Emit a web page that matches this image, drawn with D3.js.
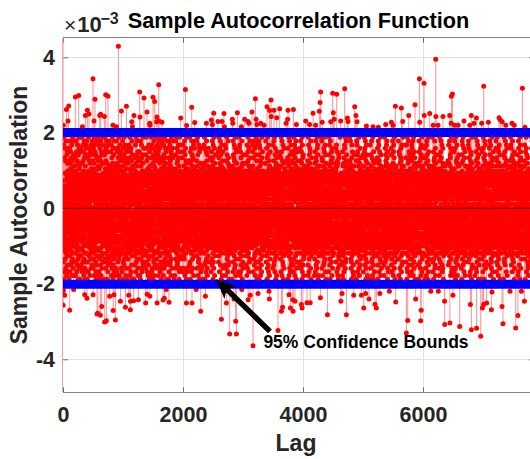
<!DOCTYPE html>
<html>
<head>
<meta charset="utf-8">
<script src="https://cdn.jsdelivr.net/npm/d3@7/dist/d3.min.js"></script>
<style>
html,body{margin:0;padding:0;background:#fff;}
svg{display:block;}
text{font-family:"Liberation Sans",Arial,Helvetica,sans-serif;font-weight:bold;}
</style>
</head>
<body>
<svg id="chart" width="530" height="459"></svg>
<script>
// ---------------- data (values in units of 1e-3) ----------------
const xTicks = [0, 2000, 4000, 6000];
const yTicks = [-4, -2, 0, 2, 4];
const xDomain = [0, 7850];
const yDomain = [-4.874, 4.519];
const confidenceBound = 2.01;
const lagZeroValue = 1000;

// stems that stick out beyond the confidence bounds
const upperTailLags = [
  5,57,83,95,206,262,323,373,406,433,
  500,517,533,612,628,690,712,750,833,890,
  923,973,1057,1145,1157,1183,1278,1283,1350,1400,
  1445,1450,1500,1528,1560,1567,1595,1600,1650,1962,
  2040,2060,2145,2195,2390,2473,2490,2512,2583,2650,
  2683,2690,2823,2830,2907,2973,3028,3083,3100,3150,
  3207,3217,3230,3295,3350,3400,3445,3467,3470,3517,
  3562,3612,3717,3745,3750,3840,3890,4045,4110,4167,
  4210,4272,4285,4295,4320,4462,4495,4505,4520,4562,
  4628,4695,4740,4750,4862,4883,4900,5057,5167,5255,
  5378,5473,5500,5540,5640,5662,5762,5867,5940,5945,
  6017,6020,6112,6170,6212,6215,6250,6333,6445,6470,
  6473,6490,6530,6585,6683,6780,6805,6850,6890,6978,
  7012,7090,7267,7290,7320,7380,7483,7520,7657,7700];
const upperTailValues = [
  2.2,2.62,2.31,2.71,2.95,2.99,2.16,2.46,2.6,2.5,
  3.43,2.31,2.89,2.46,2.49,2.43,3.01,2.97,2.2,2.16,
  4.29,2.58,2.7,2.29,2.16,2.46,3.08,2.42,2.92,2.55,
  2.25,2.2,2.94,2.83,2.29,2.42,3.27,2.31,2.28,2.39,
  3.15,2.19,2.68,2.27,2.25,2.34,2.22,2.52,2.3,2.3,
  2.51,2.16,2.36,2.25,2.53,2.16,2.36,2.3,2.25,2.55,
  2.9,2.36,2.22,2.25,2.2,2.69,2.59,2.87,2.43,2.6,
  2.4,2.64,2.25,2.36,2.6,2.62,2.22,2.31,2.22,2.52,
  2.2,2.57,2.8,3.08,2.28,2.29,3.05,2.53,2.36,3.02,
  2.31,3.17,2.39,2.3,2.69,2.46,2.29,2.18,2.16,2.15,
  2.22,2.28,2.2,2.7,2.66,2.3,2.46,2.74,3.43,2.28,
  3.31,2.46,2.51,2.2,3.95,2.43,2.2,2.43,2.46,2.25,
  2.97,3.03,2.2,2.2,2.31,2.2,2.46,2.25,2.39,2.25,
  3.23,2.28,2.4,2.34,2.29,2.2,2.25,2.2,3.18,2.15];
const lowerTailLags = [
  3,7,28,112,178,362,400,502,567,580,
  623,645,695,723,778,836,850,873,957,1040,
  1095,1123,1125,1178,1257,1378,1403,1447,1569,1667,
  1690,1720,1767,2057,2150,2220,2295,2373,2640,2723,
  2778,2850,2878,2890,2980,3085,3120,3167,3250,3433,
  3440,3583,3640,3660,3767,3790,3830,3835,3867,3973,
  3985,4067,4120,4290,4407,4632,4650,4723,4845,4973,
  5012,5045,5100,5200,5222,5280,5440,5545,5723,5745,
  5878,5962,5970,6130,6255,6360,6362,6448,6500,6612,
  6790,6807,6893,6962,6990,7010,7060,7140,7150,7317,
  7333,7450,7545,7583,7640,7690];
const lowerTailValues = [
  -2.57,-2.18,-2.3,-2.7,-2.15,-2.29,-2.38,-2.29,-2.8,-2.78,
  -2.83,-2.6,-3.01,-2.98,-2.33,-2.71,-2.29,-2.96,-2.46,-2.62,
  -2.3,-2.69,-2.46,-2.45,-2.42,-2.51,-2.28,-2.33,-2.51,-2.43,
  -2.38,-2.15,-2.49,-2.51,-2.51,-2.15,-2.73,-2.33,-2.94,-2.51,
  -3.33,-2.4,-2.99,-3.33,-2.15,-2.42,-2.3,-3.64,-2.26,-2.2,
  -2.4,-3.24,-2.73,-2.62,-2.29,-2.64,-2.42,-2.73,-2.46,-2.55,
  -2.64,-2.5,-2.5,-2.37,-2.82,-2.46,-2.26,-2.82,-2.3,-2.3,
  -2.64,-2.26,-2.4,-2.54,-2.64,-2.26,-2.2,-2.48,-3.3,-2.97,
  -2.4,-2.98,-2.7,-2.2,-2.2,-2.46,-3.08,-3.04,-2.3,-3.13,
  -2.55,-3.22,-3.18,-3.39,-2.64,-2.55,-2.51,-2.69,-2.22,-2.6,
  -3.06,-2.2,-3.17,-2.84,-2.2,-2.46];

// codebook for the dense in-bound stems: one letter per lag, letter -> level
const codeLetters = "abcdefghijklmnopqrstuvwxyzABCDEFGHIJKLMNOPQRSTUVWXYZ";
const codeLevels = [
  -0.875,-0.805,-0.735,-0.665,-0.595,-0.525,-0.455,-0.385,-0.315,-0.245,-0.175,-0.105,-0.035,
  0.035,0.105,0.175,0.245,0.315,0.385,0.455,0.525,0.595,0.665,0.735,0.805,0.875,
  -0.93,-0.99,-1.05,-1.12,-1.19,-1.26,-1.34,-1.42,-1.50,-1.59,-1.68,-1.78,-1.88,
  0.93,0.99,1.05,1.12,1.19,1.26,1.34,1.42,1.50,1.59,1.68,1.78,1.88];
const bulkCodes = [
"kqQtmHaxZehBsjXcvMruKgoDnfTwbAikWeaNplGvgSqdJmhCfaYujEpkPotLizUvqFygVxtIhbRknOfaKzjWmiDosRdeAgwSrk",
"bwMyrCeqWkdRmzFsoKtjYfuAxlPhnIvdVaqDkiNwgTmsHcyXbpBtzLehSoqGjvZfrEkaOxmJbsQuiUcwTlgHtyBenYzdLhaQrqoj",
"zdTmaAqjLrxOktEhgYveHylCsuVowNinKfqSbzBmkIrtXcbDhxRgjGyaMsvUdpFklZiqJowWemPtfQzbMguZnyFhsVcoCkrJwp",
"uaFsmWgxIrkRytCejNhlZbwKvfPnmDkqXsdHtegSypAazVuhLoxOjwGlkYcvTdfBgrMniJqtEzyQhsUejHkbXugNfpEqrWxmKo",
"ehYcwDzaMkmQsbHrjUnaBtvTyfKglOxuZoiAbqIkeSzhFwsWmtCagNjcLxpRlnEvuVfdGkqXanJrhPzsDcmUwgIbiOyjYeaGxd",
"ybBrjNsfSkdJaxWmqEwtRglGzvZhnLeuCiaXrsPkyVafAmpOjgHzcUwtDlvKoqMhdIbxTsiYryQakFnuLoPTbmCjeZgtPzQldSv",
"mtKkxXgqDzePolTbwGdrAjvWihMofQynScaIkuYtzCzlLxrVgsFbaOpoJjwUnvEhdRkrBaeZmqHfoNztXsiRxlHugVkwAdyMjq",
"rqUliLvcGzkZhbAxePmsJogEptSdyWjwNaBuYnfHcrRblCqdMztVaoFkeKemThgXxsIyiOvjDajQrcGwfYuBlqPnoNzIcm",
"cnHwfQsdBjzVraNmkFxAvXteLhgCyoTplJuiZdbEwqRozAmsMpkWjaIrdOhxUbcGteSyaKfgYnvDolPrwQmuCksWzibLjqKapFg",
"gzNkvJbaYcsEmoKwjRnqAehVytOaxHflDuiWcpTqdBzmQkgGwsZrtMpjLhbFyaXviPonUxlCqfIuDSkeVtmOgbJhaTswEojDcy",
"hsDaqSexKkoYjzMmfBdgWryHlvQnbAcuUskImzZthGjpOeaEfbXgkCyxTcvNdlFmiLrsRqbJtzVfnPwkhgAuxeyMalSjoWzmDvrBsq",
"xdRmuGyqAeljNzcXrtEwgJsfTvhCabZnmLkzPelVyrHxjOtpKodWwgDsbSahBfmIqvYuoMkzFilUbtQrajPxwegDkysMfohZcq",
"lpWfzMcrFtAhCqkIbwTsxOymAjgXdvKoaRlbDufZtrHizUqcQmkEwAyYheGsbNnjVgpLovJxlSfqPadBzeGkmThwo",
"wfVqoBatPvhLxkDrmSelMzjYodGsyQpgEcbJiaXtnAwuTdkOqmKhrCzfUseHyvRlxZajFckIpdNgwWmtuiHelNzbOhfqAsyxnDvrk",
"akJydUmrEblWgtAzsHcwZhoNexSfjCakYviKqrFcnPbzBmsTdtLlaIwyObpXhgGknDecMfuVjxRqoQevmzAisLlbOtkWdCyn",
"snOjwZhfCkoKarTbzFqcXytJmpBglRoxWeuMdvDknUwiHsrYqcAjmQhzLceGafSyoEltIpgPbnVkvNsdxWwdJaqTmuZrnS",
"voGnxIsgQmqXdeNkrDbjUwfAzyLptVlhSacCiuObmYkrJqdEgsWxvRnwFelKjqZhtBzyHfpTcoMnmPkrsEduIagXcvJwlO",
"qiYkvPzuHcdAhrSmoLasCxwXeoUftJgjQylNanEcbZqkTdzGmwRrvWnhBseIuoVtiKaDbgOjxMlEFckfnYyPwzHmdAoq",
"dtEhmWkwOqyMzrBsTleKcvRxgYnjFaoAfiXuwIkdHrqSemQtzDbsVylGhgZavLdoUcqCjxNkbJwpPefrWlmAziTnCvhsYduekqBxjaNgowfMrzlcDtyhb",
"jzLaeAlxUsnGcrPtgYqkDwmJvaZphNuyEnRidWzfIcbHqlSseCpmVkoBtrXgxTwaFbcQnyMjeKvdOuhNrsfZaiqJkmOlbwtGxegpDjyaXnvhsrVzfoNmkbFcuwl",
"oeTvcKnqNzbDwjXltCnxJukFsfVbmQdhGgyBcrYiaOzpLqeAdkUwsIvnWtlEjmShcRxgPbyMnrZeoufKsBdkzOaiwJlCpmhyPjqvkAexnrNbdgoSmzctDsyu",
"bcIwtZrmRjyHqlMhzVkdAsaOpfEueKgxWviSmnCrqYdbUhlBzpQtkGawJyjNcfTsgDomXuaLdvFixPrzkhBeltWwCnaqYOfjsmDgkbpNuzvrAxwohLiet",
"nxSmfFakYdbJjzQsuCnhZroUlyNcwLtevHgaOqcGbiXmxBjzDsVknMroWfhAelRawIytEvgTcqKkmPzoRbuDlApsJhCxifWonqeBzkvyMadrgNhbtQlcom",
"tkPzgXdhEqsRewZacWmIryMluBavOfoTjbHixAkcKnzNwsVdqGmhYgtDerSlaUyJbLkcCvuQnfFqjeOpzxWwdHimkrbAhtlgPsoynCvxdqBfkweTzamjNlrsucH",
"fgKqumOayVdcSltGkzIowBrsYbhQaxTjeEpcMviXnoHkmCzdJblPfgZyrAutWswLncDaqRhjFbxNmoUpvlkzAdtrgOycwiBnsfuqCkmjlNhaveDztxobPrwgcV",
"ryCdmHkxTbszZqhFaoNltKwfWevAjgRcnYuiIkoDzwPsyUdqEmhMrtQclBbpXfgGvjOqaLxoVekSzsJmuCwdhiPlnytAgrqkOfvzbEmcjsNxhaulBdtwI",
"euXqxLbgAojWdkJwhOcfSmyDtsZlaGviUecBnkNqzKgmFwhYrxRotIjsTulHyfCkpQvzMdcEemVwgPaDinhtEqsrxPbokjlAzmcNyfwvCdhtuBqk",
"lmMahEzwQcqBektYrdKjsHxoUgyPvfTapAlbFmkXunSqwJitNosDchWgaIeyZxkLrfOjdGlmVozCbtRshwcgNyupkiCdjzrOqmxaBltfvPwhesKnb",
"ivZxnGqtWgwNdfEzcXrkLslPmhCyeVobKjaBqcTumIzkSdxFrtYvgQwsAylMboDicRqhHaeOjmJnkUdzpAqtwxOvrsgCfmlbNijkyuDhazqBwcetRmoxF",
"zaAebUrsIdxOqyDvjLtkRwgXhfFluJcnCmiVosZqeSbrNkxEwtKjaWvgQyhBmdHckTbfGrpYloMsuPzwiNxgqtOdecjBkmyshPvfalrCzwnqAgtdX",
"dkVwyQjaCbmKzrTqoYhsGxcNelAgvIufOcknFbiWozEmsLtrRdqBwhUljHeyZfgXbxSakJpoDcvMzmPagAhtrvOeswbDkjY",
"pwHjmDefYdnUkqMzrJxbXtsEghQlcWuyAnvSawLmiPkdGozOeqRjtIbrKnsZfxTlhCagNevVwqFmkBcyBzndtuOaxrjDfmsqlCpzhiwNkobgAyetvRjdcasBn",
"cfRtsYznNqaHkwFlemWbxBryMjdTnhJgbEvoZciOqaUuzAmtIkdKxwXseDlaSnjPgrLofQhcCydGqmVzkwaeNtixEjolrsCbmhgAzdunyPfktxwNqvajBsl",
"wxJyzBkmXiEgoOjsSdIacYteHrhNpqZwlCnfKcvUbzGuoWkdAamMxtDjqQnsRegFwyLbrThlPcaVfkmvOpitQndxaEgboyzCkslrjNwumhaPqtfxBdgevAkoz",
"yhUlpEesGaNxTtzQjkKcwZmqDroVadAfuLgvYonBkySyhOidHcjXlzIpmMsxFtwNbeCqaJrnWgoRdkPvlfzcAyhmtEbjwsxOkrgnBlpvmaCfzeidNtqywSkhjrDc",
"aoNrwTfzMkdAsvWlmDegFtqQyxZhjLcuBniRbkYozJsdCmwUtrOlqKygGkeEfvXxhIjcSboHzrVnsPmxgqjNcdktsBwoVl",
"ssDijIamKckZrwRzxGqvUthNgdXyfCleTpoLcmAukWzsFqwOhjYbrQtvMyxEmlJgkPidHfaBqwVerSzhBtcsvCnxkmlEjodyPagqwAurbzNhsftcIme",
"hgWmzHvqOdxYlwAkfSncJsrEjaVteRnyCheMpoZiuKkxXczBbmTwdIlsUqgPtnGarLjvNfaFkcDeyQhdzpmQbxwsiBtuklEgnfroCymjhNvzadwAqtlbPkescQ",
"kaBvhQtrSlbIsgLxqZmcEwjXozOdaKyfGenUkoAcpDubWzdRmtHiVswNrgJqhYlaMvkFxjCedTfyPmbanwBoztcEkrlhgOsjxvuCnmqdNiafwyBtkezAplrsL",
"mrGgsRecDjnVwbKzyPnqYktTvlIbdNhmSfxAcaJuoZzpWpkEgiHtwXlcUrnMyeCsjQbqLhfOvmBxzFdkQtuwlgBcraenEpszmyCjhbkNwtxoAvdlqifZcpv",
"xjYofJkwTmqFizSdhLstAcgOyvQlbDemCkxInaWuwNjdHrqVzhEtbZsgGlfXkePomKycUwjMxrBnhRiBzdtkaEsfmgpNlucwyAbzxjtChoesOqmg",
"tlEsqKyhBnzUkcZrjXowQdgIemGbfMvxAtiYcnOauRpoCkjSqzHdhNmlVswDreLgbWyaTcvJdkFoxPtmgnwBjsuelCkryqEogbdzNpxfwaAlhmtvPcjsR",
"fyOtcPamHukWdrNhsCzlXqeYawKjgQvnVpbSifRkyLcmJozBdtMqsFwlUrhGxaTejEgbAkoIcuDpvZymztBdwfnsCkaleiEhrjqgNoxtmvAzdbyRslkwH",
"qbLnoVesFwlQzgIkyMmdRtjDorTcfKxaEviXqwWupCkmZzlOdnJesAhzHgqGojYabSxrBcyUodNfkPvQmzilwBasthgCuknejNrxbqdEowmlfAzytvPhcN",
"gmSzjZdrAkfRwqEbeYstNlhGcxJmaPoHvMgCunTkzQdwXqlFhjVsrOeaKbtDxgBymIkcLofWqvUloQzjdhBwnirsCemukxtNyagfbEpdlqzAwohjSv",
"ndMxkCraYetXvwHlzUgjKmsVqcEyhSufAbkQioDdmNzwZtqJelLgrFsjRhaBxvWbqOfdIkcGmzTynPltwgOsbrpjCkxeuNvhamiDqtzbfAwsgrlNcjU",
"ucKwhArzQmlFsdBjoZftVgkTevDxyWaIbnNkiYzrOsdGwtMghSlqJaeXjcEbxHmyCfoUvpLdkRzsPnliwAhgtrOcmqubNkjzyeCfvwdxAlsoMatbgk",
"woXmgNbqEztJdjUrkOceQlsAxhYafHyvTcpCnkGmiLzuDwtZrsWegMhxSoqIbfVldBkyRcqFmvKwzPaBsrtgnEiuhjeOcxlkwAmqzdNbfvtCgojyrSah",
"ezFgtTmwWckCsdMoqIbxYhrEfjRloBvaXiPnScbKukAwmVqeNtgOslGhjZxdDzrLfkHovQbaUcmJnyPwtlgsEhdukiCpzqxjNmaoefAvryltDsgkwFb",
"bkIhqLsvOtbZnzDmeAxwHglWdyQcrEfaSkiUopGumCzsXwqRhtYlgNjeTbxMarJfzVkcBoyKvqFdmPnQhwtjlBsuogiEcfkzeAxymrvNdbpawChqtlKs",
"rsQfxWuzUonIajGmcEtqOwkKhgNodYlvBrePbRnsLimVckAzrXqwCdhTjtJlfZnxFogHaeMbcDkdSvPymzqtsQuhwlrEjfonbCgxkaiNpmeyzAtldhvOsrcqGw",
"imDsqYacGyhLweVlrNbfAkxUztCogJmvRjdOcuMpnBsbTdkWrqShoFpzKwtXgjIlyPaeQiaEhxHcdZvkBmfrzoQsgwhtEunlbjCkxqmeNdyvafAotrhsOzlwkXj",
"jhTvmHzlNrbEqsQgtXkyMcewJbdBafZxnKipWuoCgmRcwFzsYkrOdtSlhIqbVejAvyUcaDgmGfxLbrPstdClewhTo",
"ocAbrOnkSwgKnyXtzGfhWaqIdsEmlUovYjaLexNbpDikZuzBmwQtqHghJrlVsfCceTyoFakMjxRdbPvmaqwQnztlhBgsekfEryucjNpmiowAtdhzxCsvklIg",
"vyRlgMjsIdmCqrYkoVzxDwtQcbAhuNbnHofSikBaJcmWzqEdsTwLerUltXgjOhvKxaZmcGfoFbqPzwQidytaBnhgruEkfmcxNlpezwAjsqhoTbrvdMk",
"ktWdwBqhJnbOrmTzsRxaFgcLyeXflYvjCtaUpuHbomAkcMisSgzZdDwqKxrIhjVlkNeyEatQfmGvcPozpanQsghwdEkrxlbCymtjuNqefvzAhdsiwOnkcgPo",
"egZaksExlHztKmbDwqQrjVhdMvcGfnSuaOekBimTzoYtrJsqAglIwhWxyLbaRfkCmcUdvFnpNzePqtwsrgBhlkxiEmyucfNdjobqAzvsthCerlwJa",
"zqGmyUlhLckSwrZsdPaeHfgEtaCjxVvzAnqYbiTkoOcdNmwBlsXdtIyhKrgDnaJucWxeRafQjkMbzFmwlsDtyhrgNaucxeAfjkmbOzqpvwQstldiBhnyrkEogfcjNxmwaqAvbztsCkdehRu",
"lwNoszSgaDeqAhkImtXdxBfyRluHvnFkiYqzMhwEsrQmgUteTkaLxyCfjWlcGozZdhObuKpmVkrJePtsvgnEaijlyNcqzfxAwmhdrCtokbLs",
"haVcwKgmPtaYxzEklWsrAqeJfdMbjZvyHobCimSnuDwkGstRzhXalNgrLqeTxjIcwFbkOyfBmtQodUpQzshgiBlnwruEfxkcaNmjyzqAdtehvCsrowDg",
"swCbmJnxRqdUzkMrlOhgYctGvbXeySjwIsfZaiNouEkmAzdWqrPthKlgDnyHbcTxaBwfVkjLemFovQsnQlzpdtBgxhkwEuicraNojmfyAtvzbdCleskPh",
"dcHjfXoyYrmBwtWzkGasTqlNgvQexLbcEdnCiaKmkSzuVwtFqgUrhAsfOjlMyaRxkZbeDoJzvIdmPcwtsgBhlfynEqkrxuNmaizjAdtvcwCsgoeBk",
"nqLyrNctAdmZkzFwlJbjVxhSsgBfeKavQoiDbmHkuYzlCwqTrtXsyEhgRcjOdxMekUobWmfIvnGzqPadhlwsBytrkgEmcijxNupfozAlwqvhCtskbMr",
"yvEkdGezVhmOlqCwsQatKorWjgZxcAfaLipTnuFmbMkcIwzNhqYtdSysDrlUgeXjkJacBxvRodHmoPbfzqnQlhwtrBsygikEdcmxpNjaolfAzhtewCkrvsNd",
"pzPqhIrtWkbDwsYmdBolUgcRexLjvNyfXoaGniQnkJmzHdsEwrZqtTlhSgkAjbCaxKyfOcvFeoVmpMzQsdlwrBhtugkEnixjcNfmqaeAydtbzOsvlhWk",
"fmYrwAcbKsTahqHzeSkbCtZxjQdgIlvFyoNukWanLimEwzVstGqhRrlDgjXdbOxfJeaUkyBocMmzPvdnQrwhsaBgktluEcjixfNmzqwbAvtyhdCsgerOa",
"aiJsvOmhQkncMzqUtwBaxZedHlrGofTjgVybDmuIonYkcNzdRwsAlqEtrKhgXnaSkjCxeWabLfcFymPovqzpnQhsdwlBtgkriEmaxcjNfuzoyAlwtvbCrsheSk",
"wrBfdZgqNylXzmDkxWasIochQtejTvnFaPbKwiYkuGmqUzrAsdOhySlgHtkCaxEcfRjdMebVwoJvmPzoQhtslrBgynkcEiafmdNuxqjzAwvlbsCtrhoEy",
"gkUlnFwcCsqRzhLbyKotYrdWmxOjeEfvIaoAksQuiNczMgtZwdShqXlyVbcTdaJxfDkjBmeGovPznpwQstgrdBlhcyiEkamufNoxjzqAbwvtsChlrdQg",
"qtSzbQkfXsdGmwYlhMagExyVrejBtvCoqZnpWumKikAzsUwlNrhOgtDcdRjbHfxTmeIyaJkvLzqFwsPltnhBgckrjEdoumiNfzxbyAawhtlCqsvrGn",
"tnHesDlzWmwZqgEkhYadOyfIrjQocUxvTbaXmoAiuNtzCkwGdsRqhJlgSreMfjBkyKxaVbcLkmFaoPzvtpnQdhswlBgrkyiEcfmjuNxoqzaAwtbvdCsehlUm",
"lbKqoMtxTwzBkmQdsIhjCrgYeoXfcOyvVnaEiuSkmGdwZzqNtsWlhArgJxkUjbDefHmoLyvRcqFzdPnwtshBlgkraEmixcjNfuzwoAydtvbChlsrKe",
"eyGhmWzqBdrNkwJslAgtUbcTxfKjvRnoZuaXmkHizsOwdSqtDrhVglCkbMxaIejQymEfcLvdYzqFwPplshtBgknruEicmxaNfojzyAwtbvsCdlhrZq",
"vhXrgCkwEbzYsqOmdKatHlcZexVjfQyoGanUkuJimBwsTqzMdrIhtAglDcxNbkSeaWmfFjyLaoRvqPznwQdslrtBhgkyoEumcixNfzaqjAbtwvdCsrelIp",
"mjQwtTcsSqzMkdAlgVhoXfrNevDybEnaZimWkuIqdKzsHwtCloBghUraOcxRmuGjfLozYwyJtbFdvPhsrlOi",
"icItzVrhAlmOqgLwkSdsZxvEjfGeyBcbWnoQakTmzRwqNsdKhtMrlXgkHejDxbYmfUyoCcvJdzFqnPwslthBgkrayEimcxuNjzfowAdtbvqCrshlYf",
"sfZhgRzqDmwKkrYdlJtjNoxTceSvyHbsOnmXiaVkdBzwGqtAdlEhrMgsQkxUbjIeaWfmLoyCcqFvzPdwQnslhtBkgryaEcixmjNfuozqAwtbdvCslrhBz",
"cwOodBqzMrkIshWtgXxlQfjGyeAvcYabUniSkuEzwDmdVsqKhrNtlJgjCkxZbfTemHyoRdvLzqFnsPwlhtBrgkcaEimxfuNjzqowAydtvbCshlrDx",
"ozUmrYwhHkqVsgDdlNtcLxjWyfRebZvaKkmJuiEwzAdqTsrMhtGglSbkXjxBecQfmCyoOzvIdqFwqPnshltBgkyraEcmixjNufozqAdwtbvChslrWt",
"kdWsqKblSwzGhmBrgTotYxcRfjIeyOvnZoaHikAumCdzUwsVqlEhrJtgXnxMkeDbjLmyNfcQoqFvzPdnQwshltBkgryaEcixmj"
];

const titleText = "Sample Autocorrelation Function";
const xLabelText = "Lag";
const yLabelText = "Sample Autocorrelation";
const annotationLabel = "95% Confidence Bounds";
const annotationTextAt = [3340, -3.69];
const arrowFrom = [3450, -3.26];
const arrowTo = [2550, -1.87];

// ---------------- build records ----------------
const levelOf = new Map(codeLetters.split("").map((c, i) => [c, codeLevels[i]]));
const codeString = bulkCodes.join("");
const nLags = Math.min(codeString.length, xDomain[1]);
const acf = [{lag: 0, value: lagZeroValue}];
for (let i = 1; i <= nLags; i++) acf.push({lag: i, value: levelOf.get(codeString[i - 1])});
const tailMap = new Map();
upperTailLags.forEach((l, i) => tailMap.set(l, upperTailValues[i]));
lowerTailLags.forEach((l, i) => tailMap.set(l, lowerTailValues[i]));
acf.forEach(d => { if (tailMap.has(d.lag)) d.value = tailMap.get(d.lag); });

// ---------------- drawing ----------------
const svg = d3.select("#chart");
const plot = {left: 63, right: 534, top: 37.7, bottom: 392.3};
const x = d3.scaleLinear().domain(xDomain).range([plot.left, plot.right]);
const y = d3.scaleLinear().domain(yDomain).range([plot.bottom, plot.top]);
const txt = "#262626";

svg.append("defs").append("clipPath").attr("id", "clip").append("rect")
  .attr("x", plot.left).attr("y", plot.top)
  .attr("width", plot.right - plot.left).attr("height", plot.bottom - plot.top);

// grid
const grid = svg.append("g").attr("shape-rendering", "crispEdges");
grid.selectAll("line.gx").data(xTicks.filter(t => t > 0)).join("line").attr("class", "gx")
  .attr("x1", d => Math.round(x(d)) + 0.5).attr("x2", d => Math.round(x(d)) + 0.5)
  .attr("y1", plot.top).attr("y2", plot.bottom)
  .attr("stroke", "#e2e2e2").attr("stroke-width", 1);
grid.selectAll("line.gy").data(yTicks).join("line").attr("class", "gy")
  .attr("x1", plot.left).attr("x2", plot.right)
  .attr("y1", d => Math.round(y(d)) + 0.5).attr("y2", d => Math.round(y(d)) + 0.5)
  .attr("stroke", "#e2e2e2").attr("stroke-width", 1);

// axes (drawn below the data, like MATLAB's default layer)
const fmt = d => String(d);
const gx = svg.append("g").attr("transform", `translate(0,${plot.bottom})`)
  .call(d3.axisBottom(x).tickValues(xTicks).tickSizeInner(-5).tickSizeOuter(0).tickPadding(14.3).tickFormat(fmt));
const gxt = svg.append("g").attr("transform", `translate(0,${plot.top})`)
  .call(d3.axisTop(x).tickValues(xTicks).tickSizeInner(-5).tickSizeOuter(0).tickFormat(""));
const gy = svg.append("g").attr("transform", `translate(${plot.left},0)`)
  .call(d3.axisLeft(y).tickValues(yTicks).tickSizeInner(-5).tickSizeOuter(0).tickPadding(8).tickFormat(fmt));
const gyr = svg.append("g").attr("transform", `translate(${plot.right},0)`)
  .call(d3.axisRight(y).tickValues(yTicks).tickSizeInner(-5).tickSizeOuter(0).tickFormat(""));
[gx, gxt, gy, gyr].forEach(g => {
  g.select(".domain").remove();
  g.selectAll(".tick line").attr("stroke", "#6e6e6e").attr("stroke-width", 1);
  g.selectAll(".tick text").attr("fill", txt).attr("font-size", 21.5)
    .attr("font-family", '"Liberation Sans",Arial,Helvetica,sans-serif').attr("font-weight", "bold");
});

// box lines
const box = svg.append("g").attr("shape-rendering", "crispEdges");
box.append("line").attr("x1", plot.left).attr("x2", plot.right).attr("y1", 392.5).attr("y2", 392.5).attr("stroke", "#858585");
box.append("line").attr("x1", plot.left).attr("x2", plot.right).attr("y1", 37.5).attr("y2", 37.5).attr("stroke", "#858585");
box.append("line").attr("x1", 62.5).attr("x2", 62.5).attr("y1", plot.top).attr("y2", plot.bottom).attr("stroke", "#f3a3a3");
box.append("line").attr("x1", plot.right).attr("x2", plot.right).attr("y1", plot.top).attr("y2", plot.bottom).attr("stroke", "#858585");

// data
const data = svg.append("g").attr("clip-path", "url(#clip)");
data.append("g").selectAll("line").data(acf).join("line")
  .attr("x1", d => x(d.lag)).attr("x2", d => x(d.lag))
  .attr("y1", y(0)).attr("y2", d => y(d.value))
  .attr("stroke", "#ff9090").attr("stroke-width", 1);
data.append("g").selectAll("circle").data(acf).join("circle")
  .attr("cx", d => x(d.lag)).attr("cy", d => y(d.value)).attr("r", 2.5)
  .attr("fill", "#ff0000");
data.append("line").attr("x1", x(xDomain[0])).attr("x2", x(xDomain[1]))
  .attr("y1", y(0)).attr("y2", y(0))
  .attr("stroke", "#000").attr("stroke-opacity", 0.55).attr("stroke-width", 1);
data.selectAll("line.bound").data([confidenceBound, -confidenceBound]).join("line").attr("class", "bound")
  .attr("x1", x(xDomain[0])).attr("x2", x(xDomain[1]))
  .attr("y1", d => y(d)).attr("y2", d => y(d))
  .attr("stroke", "#0000ff").attr("stroke-width", 9);

// title & exponent
svg.append("text").attr("x", (plot.left + plot.right) / 2).attr("y", 28.3)
  .attr("text-anchor", "middle").attr("font-size", 21.7).attr("fill", "#000").text(titleText);
const expo = svg.append("text").attr("x", 64).attr("y", 31.5).attr("fill", txt);
expo.append("tspan").attr("font-weight", "normal").attr("font-size", 21).text("×");
expo.append("tspan").attr("font-size", 22).attr("dx", 1).text("10");
svg.append("text").attr("x", 100.5).attr("y", 23.5).attr("font-size", 16).attr("fill", txt).text("−3");

// axis labels
svg.append("text").attr("x", (plot.left + 529) / 2).attr("y", 451)
  .attr("text-anchor", "middle").attr("font-size", 23).attr("fill", txt).text(xLabelText);
svg.append("text").attr("transform", `translate(27,${(plot.top + plot.bottom) / 2}) rotate(-90)`)
  .attr("text-anchor", "middle").attr("font-size", 23).attr("fill", txt).text(yLabelText);

// annotation arrow
const tx = x(arrowFrom[0]), ty = y(arrowFrom[1]);
const hx = x(arrowTo[0]), hy = y(arrowTo[1]);
const ang = Math.atan2(hy - ty, hx - tx);
const ux = Math.cos(ang), uy = Math.sin(ang), nx = -uy, ny = ux;
const headLen = 20, headHalf = 8.5, notch = 15;
const bx = hx - headLen * ux, by = hy - headLen * uy;
const mx = hx - notch * ux, my = hy - notch * uy;
svg.append("line").attr("x1", tx).attr("y1", ty).attr("x2", mx).attr("y2", my)
  .attr("stroke", "#000").attr("stroke-width", 5.5);
svg.append("path").attr("fill", "#000")
  .attr("d", `M${hx},${hy}L${bx + headHalf * nx},${by + headHalf * ny}L${mx},${my}L${bx - headHalf * nx},${by - headHalf * ny}Z`);
svg.append("text").attr("x", x(annotationTextAt[0])).attr("y", y(annotationTextAt[1]))
  .attr("font-size", 17.5).attr("fill", "#000").text(annotationLabel);
</script>
</body>
</html>
